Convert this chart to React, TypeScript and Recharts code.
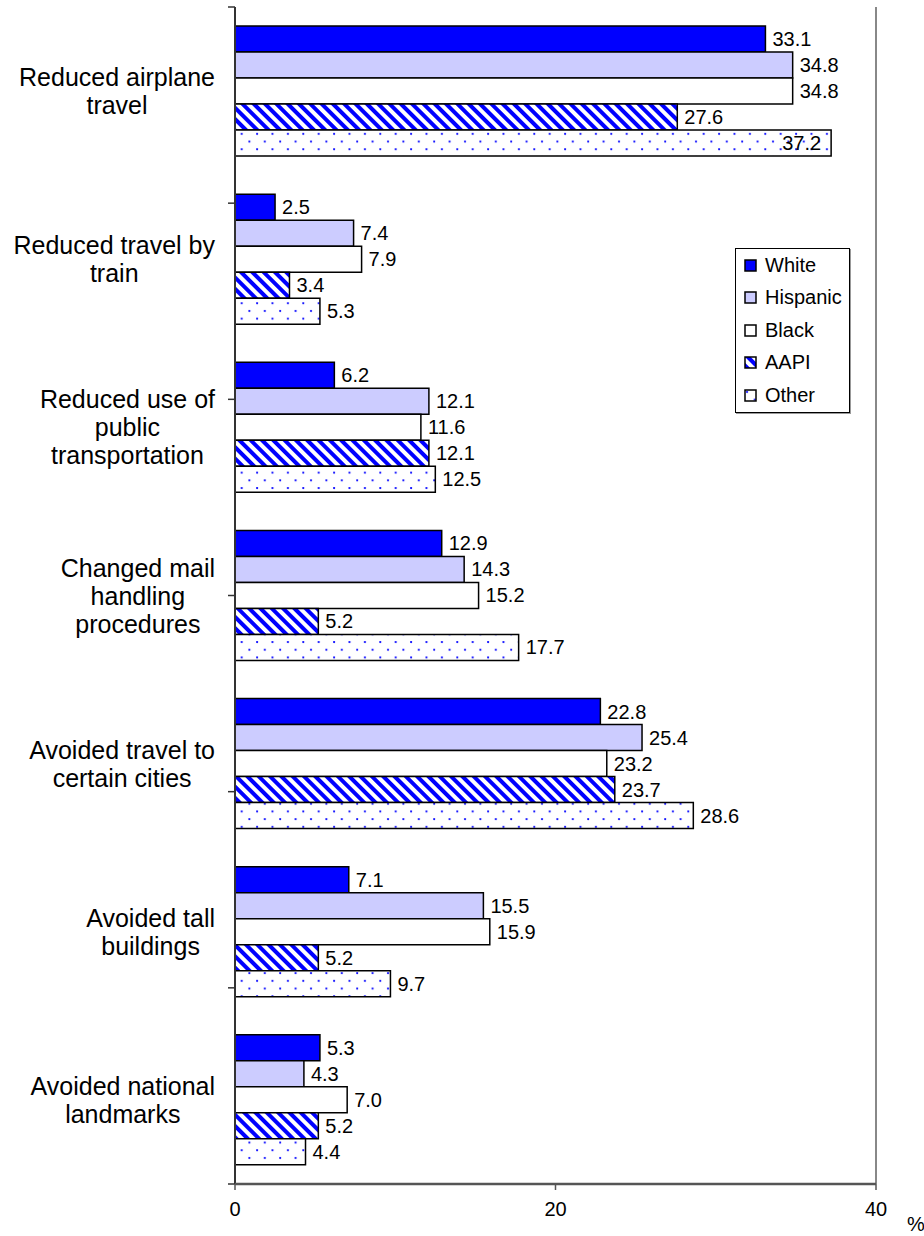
import React from 'react';
import { BarChart, Bar, XAxis, YAxis, LabelList, ReferenceLine } from 'recharts';

// categories, line breaks as in the original labels
const categories = [
  'Reduced airplane\ntravel',
  'Reduced travel by\ntrain',
  'Reduced use of\npublic\ntransportation',
  'Changed mail\nhandling\nprocedures',
  'Avoided travel to\ncertain cities',
  'Avoided tall\nbuildings',
  'Avoided national\nlandmarks',
];

const white = [33.1, 2.5, 6.2, 12.9, 22.8, 7.1, 5.3];
const hispanic = [34.8, 7.4, 12.1, 14.3, 25.4, 15.5, 4.3];
const black = [34.8, 7.9, 11.6, 15.2, 23.2, 15.9, 7.0];
const aapi = [27.6, 3.4, 12.1, 5.2, 23.7, 5.2, 5.2];
const other = [37.2, 5.3, 12.5, 17.7, 28.6, 9.7, 4.4];

const xTicks = [0, 20, 40];

const FONT = '"Liberation Sans", Arial, sans-serif';
const CHART_W = 924;
const CHART_H = 1236;
const MARGIN = { top: 7, right: 48, bottom: 12, left: 9 };
const PLOT_RIGHT = CHART_W - MARGIN.right;

const series = [
  { key: 'white', name: 'White', fill: '#0000ff' },
  { key: 'hispanic', name: 'Hispanic', fill: '#ccccff' },
  { key: 'black', name: 'Black', fill: '#ffffff' },
  { key: 'aapi', name: 'AAPI', fill: 'url(#aapiStripes)' },
  { key: 'other', name: 'Other', fill: 'url(#otherDots)' },
];

const chartData = categories.map((name, i) => ({
  name,
  white: white[i],
  hispanic: hispanic[i],
  black: black[i],
  aapi: aapi[i],
  other: other[i],
}));

// one tick per band edge, so the axis marks sit between the groups
const bandEdges = [...categories.map((_, i) => i), categories.length];

let ctx: CanvasRenderingContext2D | null = null;
function textWidth(text: string, font: string) {
  if (!ctx) ctx = document.createElement('canvas').getContext('2d');
  if (!ctx) return text.length * 10;
  ctx.font = font;
  return ctx.measureText(text).width;
}

const CAT_SIZE = 25;
const CategoryTick = (props: any) => {
  const { x, y, payload } = props;
  const lines: string[] = String(payload.value).split('\n');
  const lh = 28;
  const block = Math.max(...lines.map((l) => textWidth(l, `${CAT_SIZE}px "Liberation Sans"`)));
  const cx = x - 11 - block / 2;
  const y0 = y - ((lines.length - 1) * lh) / 2;
  return (
    <text x={cx} y={y0} textAnchor="middle" fontSize={CAT_SIZE} fontFamily={FONT} fill="#000">
      {lines.map((l, i) => (
        <tspan key={i} x={cx} y={y0 + i * lh} dominantBaseline="central">
          {l}
        </tspan>
      ))}
    </text>
  );
};

const LABEL_SIZE = 20;
const ValueLabel = (props: any) => {
  const { x, y, width, height, value } = props;
  const text = Number(value).toFixed(1);
  const w = textWidth(text, `${LABEL_SIZE}px "Liberation Sans"`);
  const end = x + width;
  let lx = end + 7;
  let anchor: 'start' | 'end' = 'start';
  // Excel pulls the label back inside the bar when it would cross the plot edge
  if (lx + w > PLOT_RIGHT - 3) {
    lx = end - 10;
    anchor = 'end';
  }
  return (
    <text x={lx} y={y + height / 2} dominantBaseline="central" textAnchor={anchor}
      fontSize={LABEL_SIZE} fontFamily={FONT} fill="#000">
      {text}
    </text>
  );
};

const LegendBox = () => (
  <div style={{
    position: 'absolute', left: 735, top: 248, width: 115,
    border: '1px solid #000', background: '#fff', padding: '0 0 0 8px', boxSizing: 'border-box',
    fontFamily: FONT, fontSize: 20, color: '#000', boxShadow: '1px 1px 0 #999',
  }}>
    {series.map((s) => (
      <div key={s.key} style={{ display: 'flex', alignItems: 'center', height: 32.5 }}>
        <svg width={13} height={13} style={{ marginRight: 8 }}>
          <rect x={1} y={1} width={11} height={11} fill={s.fill} stroke="#000" strokeWidth={1.5} />
        </svg>
        <span>{s.name}</span>
      </div>
    ))}
  </div>
);

const NoTick = () => <g />;

export default function App() {
  return (
    <div style={{ position: 'relative', width: CHART_W, height: CHART_H, background: '#fff' }}>
      <style>{'body{margin:0;background:#fff}'}</style>
      <BarChart
        width={CHART_W}
        height={CHART_H}
        data={chartData}
        layout="vertical"
        margin={MARGIN}
        barCategoryGap={19}
        barGap={0}
      >
        <defs>
          <pattern id="aapiStripes" patternUnits="userSpaceOnUse" width="8" height="8" patternTransform="rotate(-45)">
            <rect width="8" height="8" fill="#ffffff" />
            <rect width="4" height="8" fill="#0000ff" />
          </pattern>
          <pattern id="otherDots" patternUnits="userSpaceOnUse" width="15.4" height="15.4">
            <rect width="15.4" height="15.4" fill="#ffffff" />
            <circle cx="3" cy="3" r="1.1" fill="#0000ff" />
            <circle cx="10.7" cy="10.7" r="1.1" fill="#0000ff" />
          </pattern>
        </defs>
        <YAxis
          yAxisId="b-cat"
          type="category"
          dataKey="name"
          width={225}
          interval={0}
          axisLine={false}
          tickLine={false}
          tick={<CategoryTick />}
        />
        <YAxis
          yAxisId="a-edge"
          type="number"
          domain={[0, categories.length]}
          ticks={bandEdges}
          interval={0}
          allowDataOverflow
          width={1}
          tick={<NoTick />}
          tickSize={7}
          stroke="#333"
          axisLine={{ stroke: '#333', strokeWidth: 2 }}
          tickLine={{ stroke: '#333', strokeWidth: 1.5 }}
        />
        <XAxis
          type="number"
          domain={[0, 40]}
          ticks={xTicks}
          tickSize={6}
          tickMargin={12}
          height={40}
          stroke="#555"
          axisLine={{ stroke: '#555', strokeWidth: 2.5 }}
          tickLine={{ stroke: '#555', strokeWidth: 1.5 }}
          tick={{ fill: '#000', fontSize: 20, fontFamily: FONT }}
          label={{ value: '%', position: 'right', dx: 26, dy: 20, fill: '#000', fontSize: 20, fontFamily: FONT }}
        />
        <ReferenceLine yAxisId="b-cat" x={40} stroke="#888" strokeWidth={2} ifOverflow="visible" />
        {series.map((s) => (
          <Bar key={s.key} yAxisId="b-cat" dataKey={s.key} name={s.name} fill={s.fill}
            stroke="#000" strokeWidth={1.5} isAnimationActive={false}>
            <LabelList dataKey={s.key} content={<ValueLabel />} />
          </Bar>
        ))}
      </BarChart>
      <LegendBox />
    </div>
  );
}
